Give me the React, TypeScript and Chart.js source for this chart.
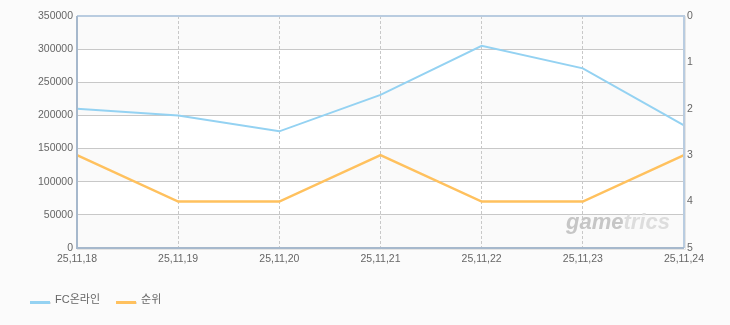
import React, { useEffect, useRef } from "react";
import { Chart, registerables } from "chart.js";

Chart.register(...registerables);

const categories = ["25,11,18", "25,11,19", "25,11,20", "25,11,21", "25,11,22", "25,11,23", "25,11,24"];
const seriesFC = [210000, 200000, 176000, 231000, 305000, 271000, 185000];
const seriesRank = [3, 4, 4, 3, 4, 4, 3];
const seriesNames = ["FC온라인", "순위"];
const seriesColors = ["#94d2f2", "#ffc15e"];

const FONT = "'Liberation Sans', 'Noto Sans CJK KR', sans-serif";

export default function App() {
  const ref = useRef<HTMLCanvasElement | null>(null);

  useEffect(() => {
    const canvas = ref.current;
    if (!canvas) return;

    const bgPlugin = {
      id: "bg",
      beforeDraw(chart: any) {
        const { ctx, chartArea: a, scales } = chart;
        ctx.save();
        ctx.fillStyle = "#fbfbfb";
        ctx.fillRect(0, 0, chart.width, chart.height);
        const y = scales.y;
        const ticks = y.ticks;
        for (let i = 0; i < ticks.length - 1; i++) {
          const y0 = y.getPixelForValue(ticks[i].value);
          const y1 = y.getPixelForValue(ticks[i + 1].value);
          const idxFromTop = ticks.length - 2 - i;
          ctx.fillStyle = idxFromTop % 2 === 0 ? "#fafafa" : "#ffffff";
          ctx.fillRect(a.left, Math.min(y0, y1), a.right - a.left, Math.abs(y1 - y0));
        }
        ctx.restore();
      },
    };

    const watermarkPlugin = {
      id: "watermark",
      beforeDatasetsDraw(chart: any) {
        const { ctx, chartArea: a } = chart;
        ctx.save();
        ctx.font = "italic bold 22px " + FONT;
        ctx.textBaseline = "alphabetic";
        ctx.textAlign = "left";
        const x = a.right - 118;
        const yb = a.bottom - 19;
        ctx.fillStyle = "#c6c6c6";
        ctx.fillText("game", x, yb);
        const w = ctx.measureText("game").width;
        ctx.fillStyle = "#dddddd";
        ctx.fillText("trics", x + w, yb);
        ctx.restore();
      },
    };

    const framePlugin = {
      id: "frame",
      afterDatasetsDraw(chart: any) {
        const { ctx, chartArea: a } = chart;
        ctx.save();
        ctx.lineWidth = 2;
        ctx.strokeStyle = "#b9cce0";
        ctx.beginPath();
        ctx.moveTo(a.left, a.top);
        ctx.lineTo(a.right, a.top);
        ctx.lineTo(a.right, a.bottom);
        ctx.stroke();
        ctx.strokeStyle = "#e4e4e4";
        ctx.lineWidth = 1;
        ctx.beginPath();
        ctx.moveTo(a.left, a.bottom + 1.5);
        ctx.lineTo(a.right + 1.5, a.bottom + 1.5);
        ctx.lineTo(a.right + 1.5, a.top);
        ctx.stroke();
        ctx.lineWidth = 2;
        ctx.strokeStyle = "#a6b8cc";
        ctx.beginPath();
        ctx.moveTo(a.left, a.top);
        ctx.lineTo(a.left, a.bottom);
        ctx.lineTo(a.right, a.bottom);
        ctx.stroke();
        ctx.restore();
      },
    };

    const legendPlugin = {
      id: "customLegend",
      afterDraw(chart: any) {
        const { ctx } = chart;
        ctx.save();
        ctx.font = "11px " + FONT;
        ctx.textBaseline = "middle";
        ctx.textAlign = "left";
        let x = 30;
        const y = 300;
        chart.data.datasets.forEach((ds: any) => {
          ctx.fillStyle = "#e2e2e2";
          ctx.fillRect(x + 1, y + 2, 20, 2);
          ctx.fillStyle = ds.borderColor;
          ctx.fillRect(x, y + 1, 20, 3);
          ctx.fillStyle = "#666666";
          ctx.fillText(ds.label, x + 25, y);
          const tw = ctx.measureText(ds.label).width;
          x += 25 + tw + 16;
        });
        ctx.restore();
      },
    };

    const chart = new Chart(canvas, {
      type: "line",
      data: {
        labels: categories,
        datasets: [
          {
            label: seriesNames[0],
            data: seriesFC,
            borderColor: seriesColors[0],
            backgroundColor: seriesColors[0],
            borderWidth: 2,
            pointRadius: 0,
            tension: 0,
            yAxisID: "y",
          },
          {
            label: seriesNames[1],
            data: seriesRank,
            borderColor: seriesColors[1],
            backgroundColor: seriesColors[1],
            borderWidth: 2.5,
            pointRadius: 0,
            tension: 0,
            yAxisID: "y1",
          },
        ],
      },
      options: {
        responsive: false,
        animation: false,
        layout: { padding: { top: 16, left: 0, right: 0, bottom: 0 } },
        plugins: {
          legend: { display: false },
          tooltip: { enabled: false },
        },
        scales: {
          x: {
            type: "category",
            offset: false,
            grid: { display: true, color: "#c8c8c8", drawTicks: false, lineWidth: 1 },
            border: { display: false, dash: [3, 2] },
            ticks: {
              color: "#666666",
              font: { family: FONT, size: 10.5 },
              padding: 5,
              maxRotation: 0,
              autoSkip: false,
            },
            afterFit(scale: any) {
              scale.height = 325 - 248;
            },
          },
          y: {
            position: "left",
            min: 0,
            max: 350000,
            grid: { color: "#c8c8c8", drawTicks: false, lineWidth: 1 },
            border: { display: false },
            ticks: {
              stepSize: 50000,
              color: "#666666",
              font: { family: FONT, size: 10.5 },
              padding: 4,
              callback: (v: any) => String(v),
            },
            afterFit(scale: any) {
              scale.width = 77;
            },
          },
          y1: {
            position: "right",
            reverse: true,
            min: 0,
            max: 5,
            grid: { display: false, drawTicks: false },
            border: { display: false },
            ticks: {
              stepSize: 1,
              color: "#666666",
              font: { family: FONT, size: 10.5 },
              padding: 3,
              callback: (v: any) => String(v),
            },
            afterFit(scale: any) {
              scale.width = 730 - 684;
            },
          },
        },
      },
      plugins: [bgPlugin, watermarkPlugin, framePlugin, legendPlugin],
    } as any);

    return () => chart.destroy();
  }, []);

  return (
    <div style={{ position: "absolute", left: 0, top: 0, width: 730, height: 325, background: "#fbfbfb" }}>
      <canvas ref={ref} width={730} height={325} style={{ display: "block" }} />
    </div>
  );
}
